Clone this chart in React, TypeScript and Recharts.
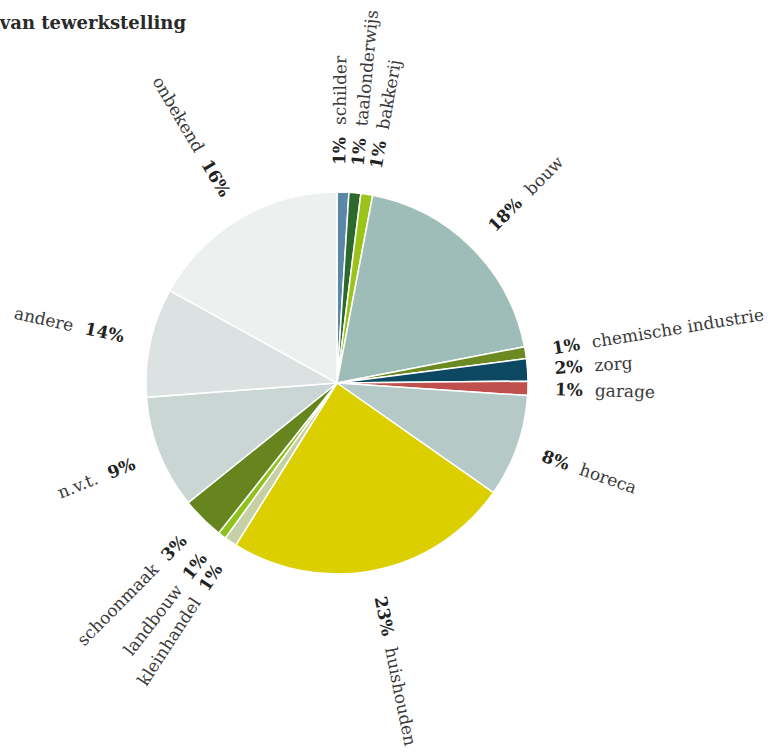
import { PieChart, Pie, Cell } from "recharts";

const sectors = [
  "schilder",
  "taalonderwijs",
  "bakkerij",
  "bouw",
  "chemische industrie",
  "zorg",
  "garage",
  "horeca",
  "huishouden",
  "kleinhandel",
  "landbouw",
  "schoonmaak",
  "n.v.t.",
  "andere",
  "onbekend",
];

// slice sizes as drawn in the reference
const shares = [1.0, 1.0, 1.0, 19.0, 1.0, 1.9, 1.2, 8.7, 24.2, 1.05, 0.7, 3.6, 9.6, 9.25, 17.0];

// percentages as printed next to the slices
const labelPcts = [1, 1, 1, 18, 1, 2, 1, 8, 23, 1, 1, 3, 9, 14, 16];

const colors = [
  "#5b88a8",
  "#2b6a2c",
  "#9cc31a",
  "#9fbdb8",
  "#6b8a22",
  "#0d4862",
  "#c0504d",
  "#b5c9c6",
  "#dccf00",
  "#c6cfa5",
  "#8fc21c",
  "#66851f",
  "#c9d6d4",
  "#dce2e1",
  "#ecf0ef",
];

const FONT = "'DejaVu Serif', serif";
const RAD = Math.PI / 180;
const MIN_GAP = 4.8; // degrees between neighbouring labels

const data = sectors.map((name, i) => ({
  name,
  value: shares[i],
  pct: labelPcts[i],
}));

// spread label angles a little so the thin slices don't overlap
function spreadAngles(mids: number[]) {
  const a = [...mids];
  for (let k = 0; k < 60; k++) {
    for (let i = 1; i < a.length; i++) {
      const gap = a[i - 1] - a[i];
      if (gap < MIN_GAP) {
        const d = (MIN_GAP - gap) / 2;
        a[i - 1] += d;
        a[i] -= d;
      }
    }
  }
  return a;
}

const total = shares.reduce((s, v) => s + v, 0);
const midAngles: number[] = [];
{
  let acc = 0;
  shares.forEach((v) => {
    midAngles.push(90 - ((acc + v / 2) / total) * 360);
    acc += v;
  });
}
const labelAngles = spreadAngles(midAngles);

function renderLabel(props: any) {
  const { cx, cy, outerRadius, index } = props;
  const angle = labelAngles[index];
  const r = outerRadius + 27;
  const cos = Math.cos(-angle * RAD);
  const sin = Math.sin(-angle * RAD);
  const x = cx + r * cos;
  const y = cy + r * sin;
  const right = cos >= 0;
  const rot = right ? -angle : 180 - angle;
  const pct = `${labelPcts[index]}%`;
  const name = sectors[index];

  return (
    <text
      x={x}
      y={y}
      transform={`rotate(${rot} ${x} ${y})`}
      textAnchor={right ? "start" : "end"}
      dominantBaseline="central"
      fontFamily={FONT}
      fontSize={17}
    >
      {right ? (
        <>
          <tspan fontWeight="bold" fill="#222">
            {pct}
          </tspan>
          <tspan dx={12} fill="#3a3a3a">
            {name}
          </tspan>
        </>
      ) : (
        <>
          <tspan fill="#3a3a3a">{name}</tspan>
          <tspan dx={12} fontWeight="bold" fill="#222">
            {pct}
          </tspan>
        </>
      )}
    </text>
  );
}

export default function App() {
  return (
    <div style={{ position: "absolute", left: 0, top: 0, width: 772, height: 756, background: "#fff" }}>
      <div
        style={{
          position: "absolute",
          right: 772 - 186,
          top: 13,
          fontFamily: FONT,
          fontWeight: "bold",
          fontSize: 18,
          lineHeight: "20px",
          color: "#2a2a2a",
          whiteSpace: "nowrap",
        }}
      >
        van tewerkstelling
      </div>
      <PieChart width={772} height={756} margin={{ top: 0, right: 0, bottom: 0, left: 0 }}>
        <Pie
          data={data}
          dataKey="value"
          nameKey="name"
          cx={337}
          cy={383}
          outerRadius={191}
          startAngle={90}
          endAngle={-270}
          stroke="#fff"
          strokeWidth={1.5}
          label={renderLabel}
          labelLine={false}
          isAnimationActive={false}
        >
          {data.map((d, i) => (
            <Cell key={d.name} fill={colors[i]} />
          ))}
        </Pie>
      </PieChart>
    </div>
  );
}
